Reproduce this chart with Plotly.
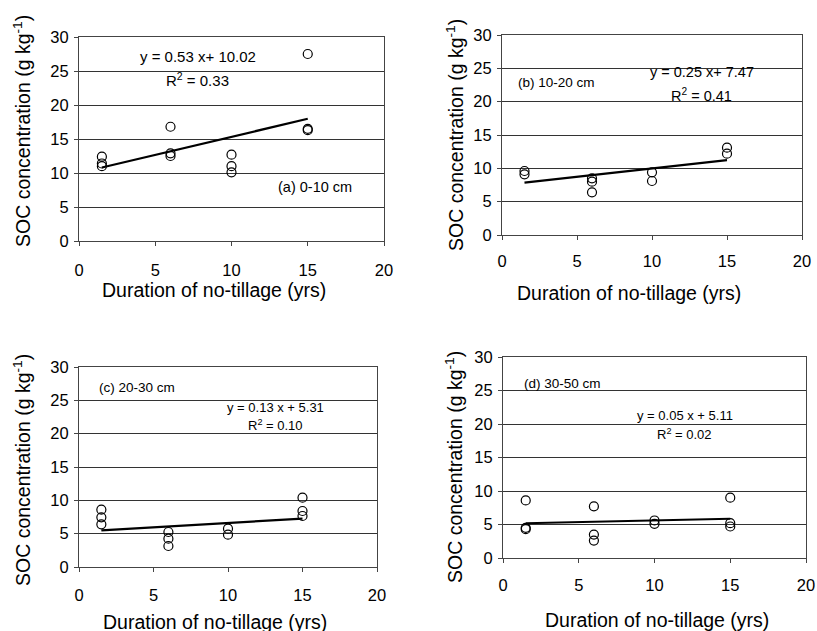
import plotly.graph_objects as go

W, H = 817, 631

# ---- data ----
x_a = [1.5, 1.5, 1.5, 6, 6, 6, 10, 10, 10, 15, 15, 15]
y_a = [12.4, 11.4, 11.0, 16.8, 12.9, 12.5, 12.7, 11.0, 10.1, 27.5, 16.5, 16.3]
x_b = [1.5, 1.5, 6, 6, 6, 10, 10, 15, 15]
y_b = [9.6, 9.1, 8.5, 8.0, 6.4, 9.4, 8.1, 13.1, 12.2]
x_c = [1.5, 1.5, 1.5, 6, 6, 6, 10, 10, 15, 15, 15]
y_c = [8.6, 7.45, 6.4, 5.25, 4.25, 3.15, 5.75, 4.85, 10.4, 8.4, 7.65]
x_d = [1.5, 1.5, 1.5, 6, 6, 6, 10, 10, 15, 15, 15]
y_d = [8.6, 4.5, 4.3, 7.7, 3.5, 2.6, 5.6, 5.1, 9.0, 5.2, 4.7]

slopes = [0.53, 0.25, 0.13, 0.05]
intercepts = [10.02, 7.47, 5.31, 5.11]
fit_x = [1.5, 15]
eq_texts = ["y = 0.53 x+ 10.02", "y = 0.25 x+ 7.47", "y = 0.13 x + 5.31", "y = 0.05 x + 5.11"]
r2_texts = ["R<sup>2</sup> = 0.33", "R<sup>2</sup> = 0.41", "R<sup>2</sup> = 0.10", "R<sup>2</sup> = 0.02"]
panel_labels = ["(a) 0-10 cm", "(b) 10-20 cm", "(c) 20-30 cm", "(d) 30-50 cm"]
x_ticks = [0, 5, 10, 15, 20]
y_ticks = [0, 5, 10, 15, 20, 25, 30]

# ---- layout geometry (window pixels: left, right, top, bottom) ----
boxes = [(79, 384, 37, 241), (502, 802, 35, 235), (79, 377, 367, 567), (503, 806, 357, 558)]
xs = [x_a, x_b, x_c, x_d]
ys = [y_a, y_b, y_c, y_d]

FONT = "Liberation Sans, Arial, sans-serif"
fig = go.Figure()
layout = dict(width=W, height=H, margin=dict(l=0, r=0, t=0, b=0, pad=0, autoexpand=False),
              paper_bgcolor="white", plot_bgcolor="white", showlegend=False,
              font=dict(family=FONT, color="black"))
annotations = []

# text positions in data coords
eq_pos = [(7.8, 27.1, 23.7), (13.3, 24.5, 21.0), (13.2, 24.0, 21.3), (12.0, 21.2, 18.5)]
lab_pos = [(15.5, 7.9, "center"), (0.95, 22.8, "left"), (1.2, 26.9, "left"), (1.25, 26.1, "left")]
eq_size = [15, 14.5, 13, 13]
lab_size = [14.5, 13.5, 13.5, 13.5]
x_standoff = [10, 7, 9, 8]
# axis-title centres (window pixels)
ytitle_xy = [(22, 131), (455, 135), (22, 470), (454, 467)]
xtitle_xy = [(214, 290), (629, 293), (215, 622), (657, 620)]


def px(v):
    return v / W


def py(v):
    return 1 - v / H


for i in range(4):
    l, r, t, b = boxes[i]
    sfx = "" if i == 0 else str(i + 1)
    xa, ya = "x" + sfx, "y" + sfx
    fig.add_trace(go.Scatter(x=xs[i], y=ys[i], mode="markers", xaxis=xa, yaxis=ya,
                             marker=dict(symbol="circle-open", size=9, color="black",
                                         line=dict(width=1.2, color="black"))))
    fy = [slopes[i] * v + intercepts[i] for v in fit_x]
    fig.add_trace(go.Scatter(x=fit_x, y=fy, mode="lines", xaxis=xa, yaxis=ya,
                             line=dict(color="black", width=2.2)))
    layout["xaxis" + sfx] = dict(domain=[px(l), px(r)], range=[0, 20], tickvals=x_ticks,
                                 anchor=ya, showgrid=False, zeroline=False, automargin=False,
                                 showline=True, linecolor="#444", linewidth=1, mirror=True,
                                 ticks="outside", ticklen=4, tickcolor="#444",
                                 ticklabeloverflow="allow", ticklabelstandoff=x_standoff[i],
                                 tickfont=dict(size=16.5, family=FONT, color="black"))
    layout["yaxis" + sfx] = dict(domain=[py(b), py(t)], range=[0, 30], tickvals=y_ticks,
                                 anchor=xa, showgrid=True, gridcolor="#333", gridwidth=1,
                                 zeroline=False, automargin=False,
                                 showline=True, linecolor="#444", linewidth=1, mirror=True,
                                 ticks="outside", ticklen=4, tickcolor="#444",
                                 ticklabelstandoff=2,
                                 tickfont=dict(size=16.5, family=FONT, color="black"))
    ex, ey, ry = eq_pos[i]
    annotations.append(dict(x=ex, y=ey, xref=xa, yref=ya, text=eq_texts[i], showarrow=False,
                            font=dict(size=eq_size[i], family=FONT, color="black")))
    annotations.append(dict(x=ex, y=ry, xref=xa, yref=ya, text=r2_texts[i], showarrow=False,
                            font=dict(size=eq_size[i], family=FONT, color="black")))
    lx, ly, anc = lab_pos[i]
    annotations.append(dict(x=lx, y=ly, xref=xa, yref=ya, text=panel_labels[i], showarrow=False,
                            xanchor=anc, font=dict(size=lab_size[i], family=FONT, color="black")))
    tx, ty = ytitle_xy[i]
    annotations.append(dict(x=px(tx), y=py(ty), xref="paper", yref="paper",
                            xanchor="center", yanchor="middle",
                            text="SOC concentration (g kg<sup>-1</sup>)", textangle=-90,
                            showarrow=False, font=dict(size=19.5, family=FONT, color="black")))
    tx, ty = xtitle_xy[i]
    annotations.append(dict(x=px(tx), y=py(ty), xref="paper", yref="paper",
                            xanchor="center", yanchor="middle",
                            text="Duration of no-tillage (yrs)", showarrow=False,
                            font=dict(size=19.5, family=FONT, color="black")))

layout["annotations"] = annotations
fig.update_layout(**layout)
# remove the default 8px page margin so the figure fills the 817x631 window exactly
fig.write_html("out.html", config={"displayModeBar": False},
               post_script="document.body.style.margin='0';document.body.style.overflow='hidden';")
